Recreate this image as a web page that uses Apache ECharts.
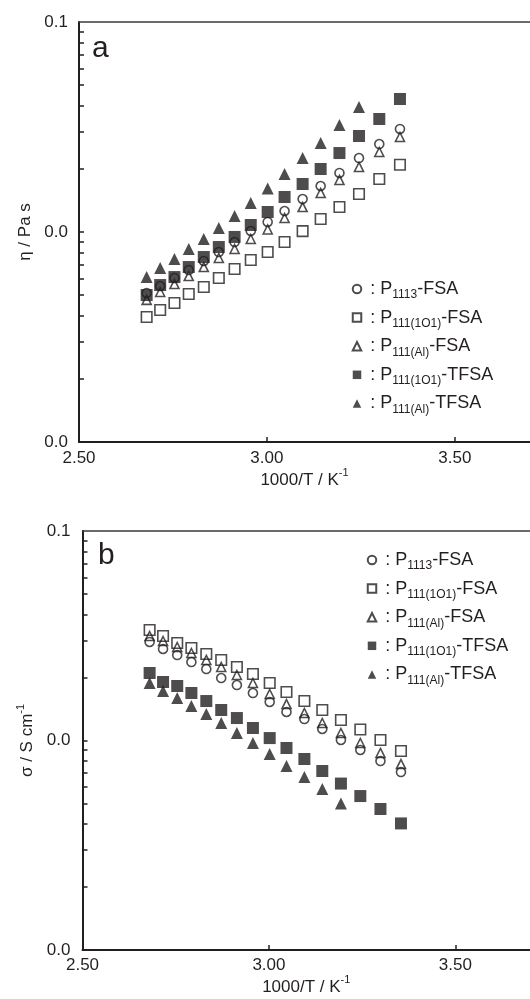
<!DOCTYPE html>
<html>
<head>
<meta charset="utf-8">
<script src="https://cdn.jsdelivr.net/npm/echarts@6/dist/echarts.min.js"></script>
<style>html,body{margin:0;padding:0;background:#fff}#c{width:530px;height:999px}</style>
</head>
<body>
<div id="c"></div>
<script>
// 1000/T (K^-1), 25 °C ... 100 °C
const invT = [2.680, 2.716, 2.754, 2.792, 2.832, 2.872, 2.914, 2.957, 3.002, 3.047, 3.095, 3.143, 3.193, 3.245, 3.299, 3.354];
const seriesNames = ['P1113-FSA', 'P111(1O1)-FSA', 'P111(Al)-FSA', 'P111(1O1)-TFSA', 'P111(Al)-TFSA'];

// panel a: viscosity eta / Pa s
const etaP1113FSA    = [0.00512, 0.00553, 0.00604, 0.00659, 0.00728, 0.00803, 0.00896, 0.01011, 0.01116, 0.01259, 0.01436, 0.01656, 0.0191, 0.0225, 0.02624, 0.03094];
const etaP1111O1FSA  = [0.00394, 0.00425, 0.00459, 0.00507, 0.00547, 0.00604, 0.00667, 0.00736, 0.00803, 0.00896, 0.0101, 0.01153, 0.01315, 0.01518, 0.01787, 0.0209];
const etaP111AlFSA   = [0.00475, 0.00518, 0.00565, 0.00617, 0.00681, 0.00752, 0.0083, 0.00926, 0.01028, 0.01166, 0.01315, 0.01534, 0.01769, 0.0204, 0.02404, 0.02834];
const etaP1111O1TFSA = [0.00501, 0.00559, 0.0061, 0.00681, 0.0076, 0.00848, 0.00947, 0.0108, 0.01245, 0.01468, 0.01693, 0.01995, 0.02377, 0.02865, 0.03453, 0.04299];
const etaP111AlTFSA  = [0.0061, 0.00674, 0.00744, 0.0083, 0.00926, 0.01045, 0.01192, 0.01374, 0.0161, 0.0189, 0.0225, 0.02653, 0.03232, 0.03937, null, null];

// panel b: conductivity sigma / S cm-1
const sigP1113FSA    = [0.02953, 0.02734, 0.02559, 0.02369, 0.02194, 0.01987, 0.0184, 0.01685, 0.01527, 0.01368, 0.01266, 0.01135, 0.01006, 0.00901, 0.00798, 0.00707];
const sigP1111O1FSA  = [0.03369, 0.03154, 0.0292, 0.02763, 0.02588, 0.02423, 0.02243, 0.02077, 0.01881, 0.01704, 0.01543, 0.01398, 0.01252, 0.01128, 0.01006, 0.00891];
const sigP111AlFSA   = [0.03154, 0.02985, 0.02794, 0.02616, 0.02423, 0.02243, 0.02054, 0.01881, 0.01667, 0.01493, 0.01353, 0.01212, 0.01086, 0.00973, 0.00872, 0.00772];
const sigP1111O1TFSA = [0.021, 0.01902, 0.0182, 0.01685, 0.01543, 0.01398, 0.0128, 0.01147, 0.01027, 0.00921, 0.00816, 0.00715, 0.00623, 0.00543, 0.00471, 0.00402];
const sigP111AlTFSA  = [0.01881, 0.01723, 0.01595, 0.01461, 0.01338, 0.01212, 0.01086, 0.00973, 0.00862, 0.00755, 0.0067, 0.00587, 0.005, null, null, null];

const yMin = 0.001, yMax = 0.1;
const yTicks = [0.001,0.002,0.003,0.004,0.005,0.006,0.007,0.008,0.009,0.01,0.02,0.03,0.04,0.05,0.06,0.07,0.08,0.09,0.1];
const xMin = 2.5, xMax = 3.7, xInterval = 0.5;

const F = "'Liberation Sans', Arial, Helvetica, sans-serif";
const C = '#231f20';
const rich = {
  m: {fontSize: 17, lineHeight: 24, fontFamily: F, color: C},
  u: {fontSize: 11, lineHeight: 10, verticalAlign: 'top', fontFamily: F, color: C}
};
const legRich = {
  m: {fontSize: 18, lineHeight: 24, fontFamily: F, color: C},
  c: {fontSize: 18, lineHeight: 24, fontFamily: F, color: C, padding: [0, 5, 0, 4]},
  s: {fontSize: 12, lineHeight: 10, verticalAlign: 'bottom', fontFamily: F, color: C}
};
const legendText = {
  'P1113-FSA': '{c|:}{m|P}{s|1113}{m|-FSA}',
  'P111(1O1)-FSA': '{c|:}{m|P}{s|111(1O1)}{m|-FSA}',
  'P111(Al)-FSA': '{c|:}{m|P}{s|111(Al)}{m|-FSA}',
  'P111(1O1)-TFSA': '{c|:}{m|P}{s|111(1O1)}{m|-TFSA}',
  'P111(Al)-TFSA': '{c|:}{m|P}{s|111(Al)}{m|-TFSA}'
};
const styles = [
  {symbol: 'circle', symbolSize: 9, itemStyle: {color: 'rgba(255,255,255,0)', borderColor: C, borderWidth: 1.6}},
  {symbol: 'rect', symbolSize: 10.5, itemStyle: {color: 'rgba(255,255,255,0)', borderColor: C, borderWidth: 1.6}},
  {symbol: 'triangle', symbolSize: 9, itemStyle: {color: 'rgba(255,255,255,0)', borderColor: C, borderWidth: 1.6}},
  {symbol: 'rect', symbolSize: 12, itemStyle: {color: C, borderWidth: 0}},
  {symbol: 'triangle', symbolSize: 12, itemStyle: {color: C, borderWidth: 0}}
];

function pairs(arr) { return invT.map((x, i) => [x, arr[i]]).filter(p => p[1] != null); }

const panelA = [etaP1113FSA, etaP1111O1FSA, etaP111AlFSA, etaP1111O1TFSA, etaP111AlTFSA];
const panelB = [sigP1113FSA, sigP1111O1FSA, sigP111AlFSA, sigP1111O1TFSA, sigP111AlTFSA];

const series = [];
[panelA, panelB].forEach((panel, g) => {
  panel.forEach((arr, k) => {
    series.push(Object.assign({
      type: 'scatter', name: seriesNames[k], xAxisIndex: g * 2, yAxisIndex: g,
      data: pairs(arr), emphasis: {disabled: true}, z: 2 + k
    }, styles[k]));
  });
});

function xAxes(g) {
  return [{
    type: 'value', gridIndex: g, min: xMin, max: xMax, interval: xInterval,
    name: '{m|1000/T / K}{u|-1}', nameLocation: 'middle', nameGap: g === 0 ? 20 : 24,
    nameTextStyle: {rich: rich},
    axisLine: {show: true, onZero: false, lineStyle: {color: C, width: 2}},
    axisTick: {show: true, inside: true, length: 5, lineStyle: {color: C, width: 1.5}},
    axisLabel: {show: true, margin: g === 0 ? 8 : 7, fontSize: 17, fontFamily: F, color: C,
      showMaxLabel: false, formatter: v => v.toFixed(2)},
    splitLine: {show: false}
  }, {
    type: 'value', gridIndex: g, position: 'top', min: xMin, max: xMax,
    axisLine: {show: true, onZero: false, lineStyle: {color: '#3a3a3a', width: 1.5}},
    axisTick: {show: false}, axisLabel: {show: false}, splitLine: {show: false}
  }];
}
function yAxis(g, nameStr) {
  return {
    type: 'log', logBase: 10, gridIndex: g, min: yMin, max: yMax,
    name: nameStr, nameLocation: 'middle', nameGap: g === 0 ? 40 : 41, nameRotate: 90,
    nameTextStyle: {rich: rich},
    axisLine: {show: true, onZero: false, lineStyle: {color: C, width: 2}},
    axisTick: {show: true, inside: true, length: 5, customValues: yTicks, lineStyle: {color: C, width: 1.5}},
    axisLabel: {show: true, margin: g === 0 ? 11 : 12, fontSize: 17, fontFamily: F, color: C,
      formatter: v => Number(v).toFixed(1)},
    splitLine: {show: false}, minorTick: {show: false}
  };
}
function legend(left, top, gap) {
  return {
    orient: 'vertical', left: left, top: top, itemWidth: 8.5, itemHeight: 8.5, itemGap: gap,
    data: seriesNames, selectedMode: false, padding: 0,
    formatter: n => legendText[n], textStyle: {rich: legRich, fontSize: 18, fontFamily: F, color: C}
  };
}

const chart = echarts.init(document.getElementById('c'), null, {renderer: 'canvas'});
chart.setOption({
  animation: false,
  backgroundColor: '#fff',
  grid: [
    {left: 79, top: 22, width: 456, height: 420},
    {left: 82.5, top: 531, width: 456.5, height: 419}
  ],
  xAxis: [...xAxes(0), ...xAxes(1)],
  yAxis: [yAxis(0, '{m|η / Pa s}'), yAxis(1, '{m|σ / S cm}{u|-1}')],
  legend: [legend(351.75, 280, 7.6), legend(366.75, 551, 7.6)],
  graphic: [
    {type: 'text', left: 92, top: 34, style: {text: 'a', fontSize: 30, fontFamily: F, fill: C}},
    {type: 'text', left: 98, top: 541, style: {text: 'b', fontSize: 30, fontFamily: F, fill: C}}
  ],
  series: series
});
</script>
</body>
</html>
